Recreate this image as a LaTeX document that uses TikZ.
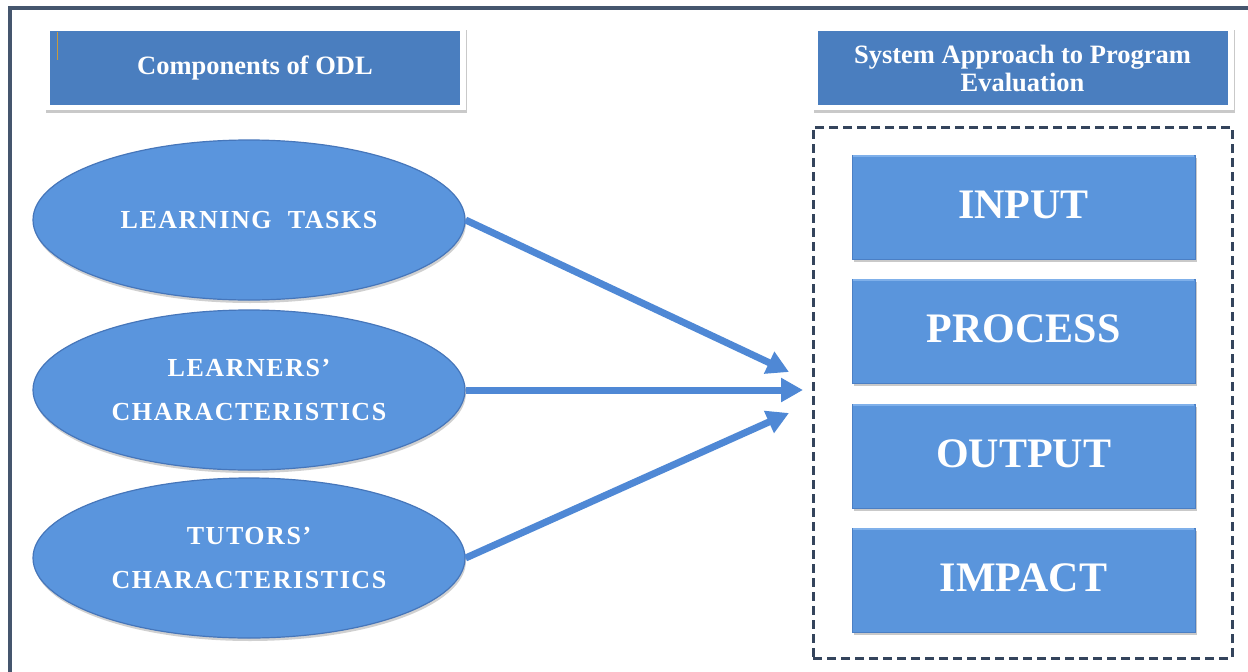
\documentclass[tikz,border=0pt]{standalone}
\usepackage{fontspec}
\setmainfont{Liberation Serif}
\newfontfamily\spacedserif[LetterSpace=6]{Liberation Serif}
\usetikzlibrary{shapes.geometric,arrows.meta,shadows}
\definecolor{frameC}{HTML}{45566E}
\definecolor{dashC}{HTML}{34445C}
\definecolor{titleC}{HTML}{4A7EBF}
\definecolor{ellC}{HTML}{5A95DD}
\definecolor{ellEdge}{HTML}{4676BA}
\definecolor{boxC}{HTML}{5A95DC}
\definecolor{boxEdge}{HTML}{4B7FC4}
\definecolor{boxTop}{HTML}{7FB0EA}
\definecolor{arrC}{HTML}{4F88D5}
\definecolor{markC}{HTML}{C89A3C}
\begin{document}
\begin{tikzpicture}[x=1pt,y=-1pt,
  card/.style={rectangle, fill=white, minimum width=421pt, minimum height=83pt, inner sep=0pt,
    drop shadow={shadow xshift=1pt, shadow yshift=-2.5pt, opacity=0.35, fill=black!60}},
  titlebox/.style={rectangle, fill=titleC, minimum width=410pt, minimum height=74pt, inner sep=0pt,
    text=white, align=center, font=\bfseries\fontsize{26.5}{28}\selectfont},
  ellnode/.style={ellipse, minimum width=432pt, minimum height=160pt, inner sep=0pt,
    fill=ellC, draw=ellEdge, line width=1.2pt,
    drop shadow={shadow xshift=1pt, shadow yshift=-3pt, opacity=0.3, fill=black!60},
    text=white, align=center, font=\spacedserif\bfseries\fontsize{26}{44}\selectfont},
  stagebox/.style={rectangle, fill=boxC, draw=boxEdge, line width=0.8pt,
    minimum width=343pt, minimum height=104pt, inner sep=0pt,
    drop shadow={shadow xshift=1.5pt, shadow yshift=-3pt, opacity=0.35, fill=black!60},
    text=white, font=\bfseries\fontsize{42}{46}\selectfont},
  flow/.style={draw=arrC, line width=7pt, -{Triangle[length=22pt,width=23pt]}},
  sysframe/.style={draw=dashC, line width=3pt, dash pattern=on 9pt off 5pt,
    minimum width=419pt, minimum height=531pt, inner sep=0pt}
]
\useasboundingbox (0,0) rectangle (1248,672);
\fill[white] (0,0) rectangle (1248,672);

% outer frame (partly cropped)
\draw[frameC, line width=3.5pt] (10,674) -- (10,8) -- (1250,8);

% title cards
\node[card] (c1) at (255.5,68.5) {};
\node[titlebox] (t1) at (255,68) {Components of ODL};
\draw[markC, line width=1.2pt] (57.5,32) -- (57.5,60);
\node[card] (c2) at (1023,68.5) {};
\node[titlebox] (t2) at (1022.5,68) {System Approach to Program\\Evaluation};

% ellipses
\node[ellnode] (lt) at (249,220) {LEARNING\ \ TASKS};
\node[ellnode] (lc) at (249,390) {LEARNERS’\\CHARACTERISTICS};
\node[ellnode] (tc) at (249,558) {TUTORS’\\CHARACTERISTICS};

% system frame and stages
\node[sysframe] (sys) at (1022.5,392.5) {};
\node[stagebox] (in)  at (1023.5,207) {\raisebox{5pt}{INPUT}};
\node[stagebox] (pr)  at (1023.5,331) {\raisebox{5pt}{PROCESS}};
\node[stagebox] (out) at (1023.5,456) {\raisebox{5pt}{OUTPUT}};
\node[stagebox] (im)  at (1023.5,580) {\raisebox{5pt}{IMPACT}};
\foreach \b in {in,pr,out,im}{
  \draw[boxTop, line width=1.5pt] ([xshift=1pt,yshift=-1.5pt]\b.north west) -- ([xshift=-1pt,yshift=-1.5pt]\b.north east);
}

% arrows
\coordinate (tip1) at (789,372);
\coordinate (tip2) at (803,390);
\coordinate (tip3) at (789,413);
\draw[flow] (lt.east) -- (tip1);
\draw[flow] (lc.east) -- (tip2);
\draw[flow] (tc.east) -- (tip3);
\end{tikzpicture}
\end{document}
